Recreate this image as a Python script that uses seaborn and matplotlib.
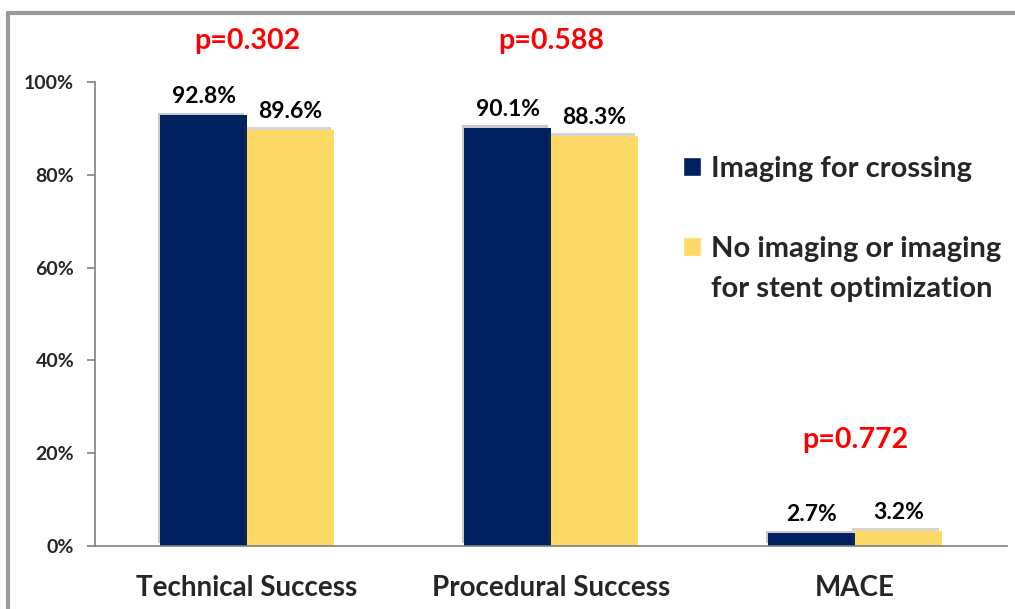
import numpy as np
import pandas as pd
import matplotlib
matplotlib.use("Agg")
import matplotlib.pyplot as plt
import matplotlib.patheffects as pe
from matplotlib.patches import Patch
import seaborn as sns

# =========================
# DATA
# =========================
categories = ["Technical Success", "Procedural Success", "MACE"]
groups = ["Imaging for crossing", "No imaging or imaging for stent optimization"]
imaging_crossing = [92.8, 90.1, 2.7]
no_imaging = [89.6, 88.3, 3.2]
p_values = ["p=0.302", "p=0.588", "p=0.772"]
y_ticks = [0, 20, 40, 60, 80, 100]

df = pd.DataFrame({
    "Outcome": categories * 2,
    "Group": [groups[0]] * 3 + [groups[1]] * 3,
    "Rate": imaging_crossing + no_imaging,
})

# =========================
# STYLE
# =========================
sns.set_style("white")
plt.rcParams["font.family"] = ["Lato", "DejaVu Sans"]
plt.rcParams["font.weight"] = "bold"

navy = "#00205F"
yellow = "#FFD966"

fig = plt.figure(figsize=(10.15, 6.09), dpi=100)
ax = fig.add_axes([0.0936, 0.1034, 0.8985, 0.762])

sns.barplot(
    data=df,
    x="Outcome",
    y="Rate",
    hue="Group",
    palette=[navy, yellow],
    width=0.57,
    saturation=1,
    ax=ax,
    legend=False,
)

shadow = [pe.SimplePatchShadow(offset=(-2, 2), alpha=0.22), pe.Normal()]
for bar in ax.patches:
    bar.set_path_effects(shadow)
    bar.set_edgecolor("none")

# value labels
for container in ax.containers:
    ax.bar_label(
        container,
        labels=[f"{v:.1f}%" for v in container.datavalues],
        padding=6,
        fontsize=16.5,
        fontweight="bold",
        color="black",
    )

# p-values: first two at the top, MACE above its bars
for i, p in enumerate(p_values):
    y = 108.8 if i < 2 else max(imaging_crossing[i], no_imaging[i]) + 19.6
    ax.text(i, y, p, ha="center", va="center", color="#FF0000",
            fontsize=20.5, fontweight="bold", clip_on=False)

# axes
ax.set_ylim(0, 100)
ax.set_xlim(-0.5, 2.5)
ax.set_yticks(y_ticks)
ax.set_yticklabels([f"{t}%" for t in y_ticks], fontsize=14, fontweight="bold")
ax.set_xticks(range(len(categories)))
ax.set_xticklabels(categories, fontsize=20, fontweight="bold")
ax.set_xticks([-0.5, 0.5, 1.5, 2.5], minor=True)
ax.tick_params(axis="x", which="major", length=0, pad=21)
ax.tick_params(axis="x", which="minor", length=7, color="#808080", width=1.2, direction="out")
ax.tick_params(axis="y", length=6, color="#808080", width=1.2, direction="out", pad=9, left=True)
ax.set_xlabel("")
ax.set_ylabel("")

for side in ["top", "right"]:
    ax.spines[side].set_visible(False)
for side in ["left", "bottom"]:
    ax.spines[side].set_color("#808080")
    ax.spines[side].set_linewidth(1.2)

# legend (second label wraps onto two lines, square beside the first line)
blank = Patch(facecolor="none", edgecolor="none")
handles = [Patch(facecolor=navy), blank, Patch(facecolor=yellow), blank]
labels = [groups[0], " ", "No imaging or imaging", "for stent optimization"]
fig.legend(
    handles, labels,
    loc="upper left",
    bbox_to_anchor=(0.659, 0.768),
    frameon=False,
    handlelength=0.6,
    handleheight=0.6,
    handletextpad=0.35,
    labelspacing=0.48,
    borderpad=0,
    prop={"weight": "bold", "size": 21},
)

# slide frame
fig.add_artist(plt.Line2D([0.008, 1.0], [0.978, 0.978], color="#999999", lw=3, transform=fig.transFigure))
fig.add_artist(plt.Line2D([0.008, 0.008], [0.0, 0.978], color="#999999", lw=3, transform=fig.transFigure))

fig.savefig("out.png", dpi=100)
